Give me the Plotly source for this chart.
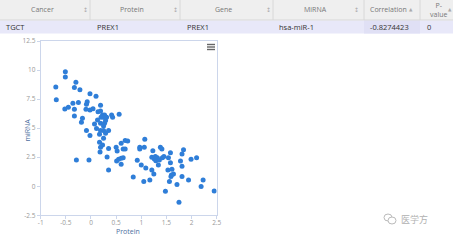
import plotly.graph_objects as go

W, H = 453, 240

# ---- table data ----
columns = ["Cancer", "Protein", "Gene", "MiRNA", "Correlation", "P-<br>value"]
row_values = ["TGCT", "PREX1", "PREX1", "hsa-miR-1", "-0.8274423", "0"]

# ---- scatter data ----
protein = [-0.70, -0.69, -0.51, -0.51, -0.30, -0.33, -0.22, -0.52, -0.45, -0.36,
           -0.25, -0.33, -0.33, -0.17, -0.19, -0.29, -0.04, -0.02, 0.10, -0.075,
           -0.09, -0.10, -0.02, 0.04, 0.14, 0.19, 0.19, 0.23, 0.27, 0.25,
           0.20, 0.31, 0.41, 0.43, 0.56, 0.07, 0.13, 0.19, 0.27, 0.29,
           0.25, 0.19, 0.25, 0.29, 0.35, 0.11, -0.09, -0.02, 0.17, 0.25,
           0.17, 0.23, 0.19, 0.18, 0.35, 0.32, 0.35, 0.50, 0.52, 0.60,
           0.64, 0.68, 0.68, 0.73, 0.51, 0.55, 0.60, 0.64, 0.60, 0.84,
           0.92, 0.97, 0.97, 1.06, 1.07, 1.00, 1.09, 1.05, 1.17, 1.21,
           1.25, 1.23, 1.21, 1.26, 1.29, 1.32, 1.28, 1.36, 1.34, 1.38,
           1.41, 1.42, 1.45, 1.48, 1.53, 1.54, 1.58, 1.58, 1.56, 1.59,
           1.61, 1.60, 1.64, 1.71, 1.75, 1.78, 1.81, 1.84, 1.81, 1.81,
           1.94, 1.99, 2.10, 2.19, 2.23, 2.45]
mirna = [8.55, 7.45, 9.85, 9.40, 8.95, 8.50, 8.30, 6.65, 6.80, 7.15,
         7.20, 6.62, 6.05, 5.85, 5.50, 2.25, 2.25, 7.97, 7.75, 7.28,
         7.05, 6.62, 6.56, 6.68, 6.42, 6.97, 6.48, 6.13, 6.13, 5.93,
         5.93, 5.93, 6.13, 5.93, 6.19, 5.36, 5.70, 5.42, 5.42, 5.65,
         5.19, 4.79, 4.79, 4.56, 4.79, 4.96, 4.79, 4.36, 4.47, 4.13,
         3.78, 3.55, 3.35, 2.95, 3.24, 2.52, 1.40, 3.35, 3.04, 3.70,
         3.21, 3.21, 3.93, 3.90, 2.18, 2.32, 2.41, 2.46, 1.89, 0.80,
         2.23, 3.21, 3.35, 3.35, 4.04, 1.83, 1.57, 0.40, 0.54, 1.40,
         1.06, 3.06, 2.49, 2.35, 2.20, 2.46, 2.55, 2.26, 1.83, 3.35,
         3.21, 2.46, 2.55, -0.43, 1.40, 2.46, 2.03, 2.89, 0.40, 0.83,
         1.46, 0.97, 1.06, 0.14, -1.38, 2.17, 2.78, 3.15, 1.72, 0.83,
         0.54, 2.32, 2.46, -0.03, 0.54, -0.40]

x_ticks = [-1, -0.5, 0, 0.5, 1, 1.5, 2, 2.5]
y_ticks = [-2.5, 0, 2.5, 5, 7.5, 10, 12.5]

FONT = "Open Sans"


def px(x):
    return x / W


def py(y):
    return 1 - y / H


fig = go.Figure()
fig.add_trace(go.Scatter(
    x=protein, y=mirna, mode="markers",
    marker=dict(color="#2f7ed8", size=5, line=dict(width=0)),
    hoverinfo="x+y", showlegend=False,
))

axis_common = dict(showgrid=False, zeroline=False, showline=True, mirror=True,
                   linecolor="#ccd6eb", linewidth=1, ticks="outside", ticklen=3,
                   tickcolor="#ccd6eb", automargin=False,
                   tickfont=dict(family=FONT, size=6.5, color="#999999"))

fig.update_layout(
    width=W, height=H,
    margin=dict(l=0, r=0, t=0, b=0, pad=0),
    paper_bgcolor="white", plot_bgcolor="white",
    xaxis=dict(range=[-1, 2.5], tickvals=x_ticks, ticktext=[f"{v:g}" for v in x_ticks],
               domain=[px(40.7), px(216.7)], ticklabelstandoff=-2, **axis_common),
    yaxis=dict(range=[-2.5, 12.5], tickvals=y_ticks, ticktext=[f"{v:g}" for v in y_ticks],
               domain=[py(215.3), py(41)], **axis_common),
)

shapes = []
annotations = []

# header background
shapes.append(dict(type="rect", xref="paper", yref="paper", x0=0, x1=1, y0=py(20), y1=py(0),
                   fillcolor="#efefef", line=dict(width=0), layer="below"))
shapes.append(dict(type="line", xref="paper", yref="paper", x0=0, x1=1, y0=py(20), y1=py(20),
                   line=dict(color="#d6d6d6", width=1)))
# data row background
shapes.append(dict(type="rect", xref="paper", yref="paper", x0=0, x1=1, y0=py(33.5), y1=py(20.5),
                   fillcolor="#e8e8f9", line=dict(width=0), layer="below"))

col_edges = [0, 90, 180, 273, 364, 420, 453]
# sorted column cell highlight
shapes.append(dict(type="rect", xref="paper", yref="paper", x0=px(364), x1=px(420),
                   y0=py(33.5), y1=py(20.5), fillcolor="#e0e0f5", line=dict(width=0), layer="below"))
for e in col_edges[1:-1]:
    shapes.append(dict(type="line", xref="paper", yref="paper", x0=px(e), x1=px(e),
                       y0=py(20), y1=py(0), line=dict(color="#d8d8d8", width=1)))

header_cx = [42, 132, 223, 315, 388, 438]
icon_x = [85, 175, 268, 356, 411, 450]
for i, name in enumerate(columns):
    annotations.append(dict(text=name, xref="paper", yref="paper", x=px(header_cx[i]), y=py(10),
                            showarrow=False, xanchor="center", yanchor="middle",
                            font=dict(family=FONT, size=7, color="#777777")))
    sym = "▲" if i >= 4 else "↕"
    annotations.append(dict(text=sym, xref="paper", yref="paper", x=px(icon_x[i]), y=py(10),
                            showarrow=False, xanchor="center", yanchor="middle",
                            font=dict(family="DejaVu Sans", size=4.5 if i >= 4 else 6,
                                      color="#aaaaaa")))

cell_x = [4, 95, 185, 277, 368, 425]
for i, v in enumerate(row_values):
    annotations.append(dict(text=v, xref="paper", yref="paper", x=px(cell_x[i]), y=py(27),
                            showarrow=False, xanchor="left", yanchor="middle",
                            font=dict(family=FONT, size=7.5, color="#333333")))

# axis titles
annotations.append(dict(text="Protein", xref="paper", yref="paper", x=px(128), y=py(231.5),
                        showarrow=False, xanchor="center", yanchor="middle",
                        font=dict(family=FONT, size=7, color="#4d6fa0")))
annotations.append(dict(text="miRNA", xref="paper", yref="paper", x=px(26.5), y=py(130),
                        showarrow=False, xanchor="center", yanchor="middle", textangle=-90,
                        font=dict(family=FONT, size=7, color="#4d6fa0")))

# context menu icon (hamburger)
for yy in [44.5, 47, 49.5]:
    shapes.append(dict(type="rect", xref="paper", yref="paper", x0=px(207), x1=px(215),
                       y0=py(yy + 0.7), y1=py(yy - 0.7), fillcolor="#666666", line=dict(width=0)))

# watermark
shapes.append(dict(type="circle", xref="paper", yref="paper", x0=px(384), x1=px(392),
                   y0=py(221), y1=py(214), line=dict(color="#bbbbbb", width=1)))
shapes.append(dict(type="circle", xref="paper", yref="paper", x0=px(388), x1=px(396),
                   y0=py(224), y1=py(217), line=dict(color="#bbbbbb", width=1), fillcolor="white"))
annotations.append(dict(text="医学方", xref="paper", yref="paper", x=px(399), y=py(219),
                        showarrow=False, xanchor="left", yanchor="middle",
                        font=dict(family="Noto Sans CJK SC", size=9, color="#b0b0b0")))

fig.update_layout(shapes=shapes, annotations=annotations)

fig.write_html("out.html", config={"displayModeBar": False})
